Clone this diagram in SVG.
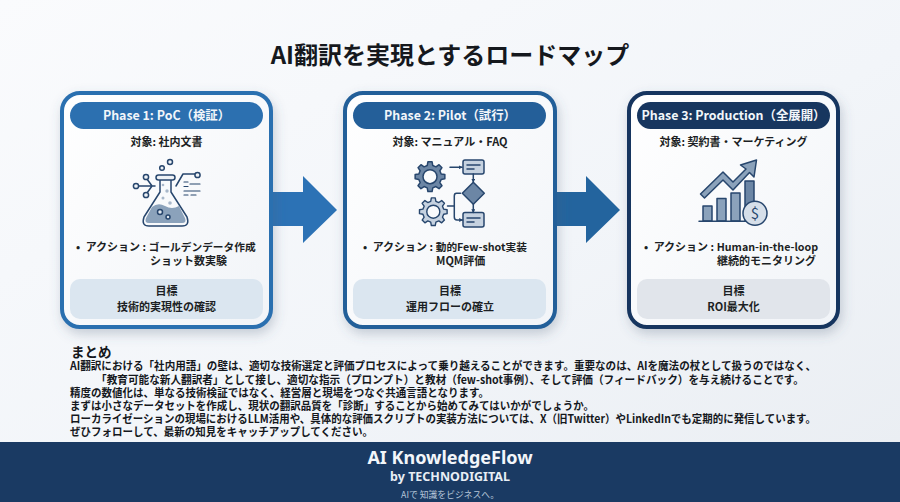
<svg xmlns="http://www.w3.org/2000/svg" xmlns:xlink="http://www.w3.org/1999/xlink" width="900" height="502" viewBox="0 0 900 502">
<style>
text{font-family:"Noto Sans CJK JP","Noto Sans",sans-serif;fill:#1c1f24}
.title{font-size:24px;font-weight:700;text-anchor:middle;fill:#15181d}
.pill{font-size:12.4px;font-weight:700;text-anchor:middle;fill:#f2f6fa}
.t{font-size:11px;font-weight:700;text-anchor:middle}
.s{font-size:11px;font-weight:700}
.v{font-size:10.7px}
.b{font-size:11.2px;font-weight:700;fill:#15181d}
.card{fill:url(#cardfill);stroke-width:4;filter:url(#sh)}
.ic{stroke:#27466d;stroke-width:1.5;stroke-linejoin:round;stroke-linecap:round}
.l{fill:none}
.mid{fill:#8ba2bb}
.pale{fill:#c6d2e0}
.dark{fill:#6c86a5}
</style>
<defs>
<linearGradient id="bg" x1="0" y1="0" x2="1" y2="1"><stop offset="0" stop-color="#fafbfd"/><stop offset="0.55" stop-color="#f2f5f9"/><stop offset="1" stop-color="#e9edf2"/></linearGradient>
<linearGradient id="cardfill" x1="0" y1="0" x2="1" y2="1"><stop offset="0" stop-color="#ffffff"/><stop offset="1" stop-color="#f1f4f8"/></linearGradient>
<filter id="sh" x="-15%" y="-15%" width="130%" height="130%"><feDropShadow dx="2" dy="5" stdDeviation="6" flood-color="#4a5d78" flood-opacity="0.28"/></filter>
<path id="gear" fill-rule="evenodd" d="M11.16-2.78L14.85-2.09L14.85 2.09L11.16 2.78L9.86 5.92L11.98 9.03L9.03 11.98L5.92 9.86L2.78 11.16L2.09 14.85L-2.09 14.85L-2.78 11.16L-5.92 9.86L-9.03 11.98L-11.98 9.03L-9.86 5.92L-11.16 2.78L-14.85 2.09L-14.85-2.09L-11.16-2.78L-9.86-5.92L-11.98-9.03L-9.03-11.98L-5.92-9.86L-2.78-11.16L-2.09-14.85L2.09-14.85L2.78-11.16L5.92-9.86L9.03-11.98L11.98-9.03L9.86-5.92ZM7 0A7 7 0 1 0-7 0A7 7 0 1 0 7 0Z"/>
<marker id="ah" viewBox="0 0 6 6" refX="5" refY="3" markerWidth="4" markerHeight="4" markerUnits="userSpaceOnUse" orient="auto"><path d="M0 0L6 3L0 6Z" fill="#27466d"/></marker>
</defs>
<rect width="900" height="502" fill="url(#bg)"/>
<text class="title" id="title" x="450" y="64">AI翻訳を実現とするロードマップ</text>

<g id="connectors">
<polygon id="arrow1" points="272,192 303,192 303,176 337,210 303,243 303,226 272,226" fill="#2c72b5"/>
<polygon id="arrow2" points="556,192 586,192 586,176 620,210 586,243 586,226 556,226" fill="#23649e"/>
</g>

<g id="phase1">
<rect class="card" x="62" y="93" width="209" height="234" rx="18" stroke="#2c70b0"/>
<rect x="70" y="102" width="193" height="27" rx="13.5" fill="#2c70b0"/>
<text class="pill" x="166.500" y="120">Phase 1: PoC（検証）</text>
<text class="t" x="166.500" y="146">対象: 社内文書</text>
<g id="icon-flask" class="ic">
<path class="l" d="M160 180V192L144 217Q141 226 149 226H182Q190 226 187 217L171 192V180" fill="#f4f7fa"/>
<path class="mid" stroke="none" d="M152 207Q158 202 165 206T179 206L185 218Q187 223 182 223H149Q144 223 146 218Z"/>
<rect x="156" y="175" width="19" height="5" rx="2.500" fill="#eef2f6"/>
<circle cx="160" cy="212" r="2.500" fill="#dfe6ee"/><circle cx="168" cy="217" r="2" fill="#dfe6ee"/>
<g fill="#a9b8ca" stroke="none"><circle cx="163" cy="185" r="1.300"/><circle cx="167" cy="191" r="1.700"/><circle cx="163" cy="198" r="1.500"/><circle cx="170" cy="203" r="1.800"/></g>
<circle cx="170" cy="162" r="2.500" fill="#eef2f6"/><circle cx="162" cy="168" r="2.300" fill="#eef2f6"/>
<path class="l" d="M139 186H155M147 179L152 186L147 193M176 186L183 174H195"/>
<circle cx="136" cy="186" r="2.600" fill="#eef2f6"/><circle cx="146" cy="177" r="2.600" fill="#eef2f6"/><circle cx="146" cy="195" r="2.600" fill="#eef2f6"/><circle cx="197.500" cy="175" r="2.600" fill="#eef2f6"/>
<path class="l" stroke-width="1.200" d="M184 182H188M190 184H200M184 186.500H188M184 191H200M184 195H188M191 195H196"/>
</g>
<text class="s" x="76" y="251">• <tspan dx="3">アクション</tspan> : <tspan class="v">ゴールデンデータ作成</tspan><tspan x="150" y="265">ショット数実験</tspan></text>
<rect x="70" y="279" width="193" height="40" rx="10" fill="#dbe6f0"/>
<text class="t" x="166.500" y="295">目標<tspan x="166.500" y="311">技術的実現性の確認</tspan></text>
</g>

<g id="phase2">
<rect class="card" x="345" y="93" width="210" height="234" rx="18" stroke="#245f99"/>
<rect x="353" y="102" width="193" height="27" rx="13.500" fill="#245f99"/>
<text class="pill" x="450" y="120">Phase 2: Pilot（試行）</text>
<text class="t" x="450" y="146">対象: マニュアル・FAQ</text>
<g id="icon-flow" class="ic">
<use xlink:href="#gear" href="#gear" x="430" y="176.700" class="dark"/>
<use xlink:href="#gear" href="#gear" transform="translate(433.300 211.700) scale(.93)" class="pale"/>
<rect x="463" y="160" width="21" height="14" rx="2" class="pale"/>
<path class="l" d="M467 165H480M467 169H474"/>
<rect x="463" y="212.500" width="21" height="14.500" rx="2" class="pale"/>
<path class="l" d="M467 218H480M467 222H474"/>
<polygon points="473.300,182.300 484.300,193.300 473.300,204.300 462.300,193.300" class="dark"/>
<path class="l" marker-end="url(#ah)" d="M450 167.300H462"/>
<path class="l" marker-end="url(#ah)" d="M473.300 174V182"/>
<path class="l" marker-end="url(#ah)" d="M473.300 204.500V212.500"/>
<path class="l" marker-end="url(#ah)" d="M460.500 193.300H456.500Q454.300 193.300 454.300 196V217Q454.300 220 457 220H462.500"/>
<path class="l" d="M447.500 206H454.300"/>
</g>
<text class="s" x="363" y="251">• <tspan dx="3">アクション</tspan> : <tspan class="v">動的Few-shot実装</tspan><tspan x="436" y="265">MQM評価</tspan></text>
<rect x="353" y="279" width="193" height="40" rx="10" fill="#dbe6f0"/>
<text class="t" x="450" y="295">目標<tspan x="450" y="311">運用フローの確立</tspan></text>
</g>

<g id="phase3">
<rect class="card" x="629" y="93" width="209" height="234" rx="18" stroke="#17365f"/>
<rect x="637" y="102" width="193" height="27" rx="13.500" fill="#17365f"/>
<text class="pill" x="733.500" y="120">Phase 3: Production（全展開）</text>
<text class="t" x="733.500" y="146">対象: 契約書・マーケティング</text>
<g id="icon-chart" class="ic">
<rect x="703" y="206" width="9" height="15" class="mid"/>
<rect x="717" y="198.500" width="9" height="22.500" class="mid"/>
<rect x="731" y="193" width="9" height="28" class="mid"/>
<rect x="745" y="181" width="9" height="40" class="dark"/>
<path class="l" d="M699 221.300H746"/>
<polygon class="mid" points="700.500,194 723,172 733,182 746,169 740.500,165 756.500,160 754,177 749.500,172.500 733,190 723,180 704.500,198"/>
<circle cx="755" cy="213.300" r="12" fill="#d6dfe9"/>
</g>
<text x="755" y="218.500" font-size="15" text-anchor="middle" style="fill:#27466d">$</text>
<text class="s" x="644" y="251">• <tspan dx="3">アクション</tspan> : <tspan class="v">Human-in-the-loop</tspan><tspan x="717" y="265">継続的モニタリング</tspan></text>
<rect x="637" y="279" width="193" height="40" rx="10" fill="#e1e5eb"/>
<text class="t" x="733.500" y="295">目標<tspan x="733.500" y="311">ROI最大化</tspan></text>
</g>

<g id="summary">
<text class="b"><tspan x="71" y="357" font-size="13.500">まとめ</tspan><tspan x="70" y="370" textLength="746" lengthAdjust="spacingAndGlyphs">AI翻訳における「社内用語」の壁は、適切な技術選定と評価プロセスによって乗り越えることができます。重要なのは、AIを魔法の杖として扱うのではなく、</tspan><tspan x="96" y="384" textLength="708" lengthAdjust="spacingAndGlyphs">「教育可能な新人翻訳者」として接し、適切な指示（プロンプト）と教材（few-shot事例）、そして評価（フィードバック）を与え続けることです。</tspan><tspan x="70" y="397" textLength="419" lengthAdjust="spacingAndGlyphs">精度の数値化は、単なる技術検証ではなく、経営層と現場をつなぐ共通言語となります。</tspan><tspan x="70" y="410" textLength="524" lengthAdjust="spacingAndGlyphs">まずは小さなデータセットを作成し、現状の翻訳品質を「診断」することから始めてみてはいかがでしょうか。</tspan><tspan x="70" y="423" textLength="746" lengthAdjust="spacingAndGlyphs">ローカライゼーションの現場におけるLLM活用や、具体的な評価スクリプトの実装方法については、X（旧Twitter）やLinkedInでも定期的に発信しています。</tspan><tspan x="70" y="436" textLength="303" lengthAdjust="spacingAndGlyphs">ぜひフォローして、最新の知見をキャッチアップしてください。</tspan></text>
</g>

<g id="footer">
<rect y="442" width="900" height="60" fill="#1a3a63"/>
<text x="450" y="464" font-size="18" font-weight="700" text-anchor="middle" style="fill:#f3f6fa;font-family:'Noto Sans',sans-serif">AI KnowledgeFlow<tspan x="450" y="481" font-size="12.500" style="fill:#e8eef5">by TECHNODIGITAL</tspan></text>
<text x="450" y="497.500" font-size="8.800" text-anchor="middle" style="fill:#b5c5d8">AIで 知識をビジネスへ。</text>
</g>
</svg>
